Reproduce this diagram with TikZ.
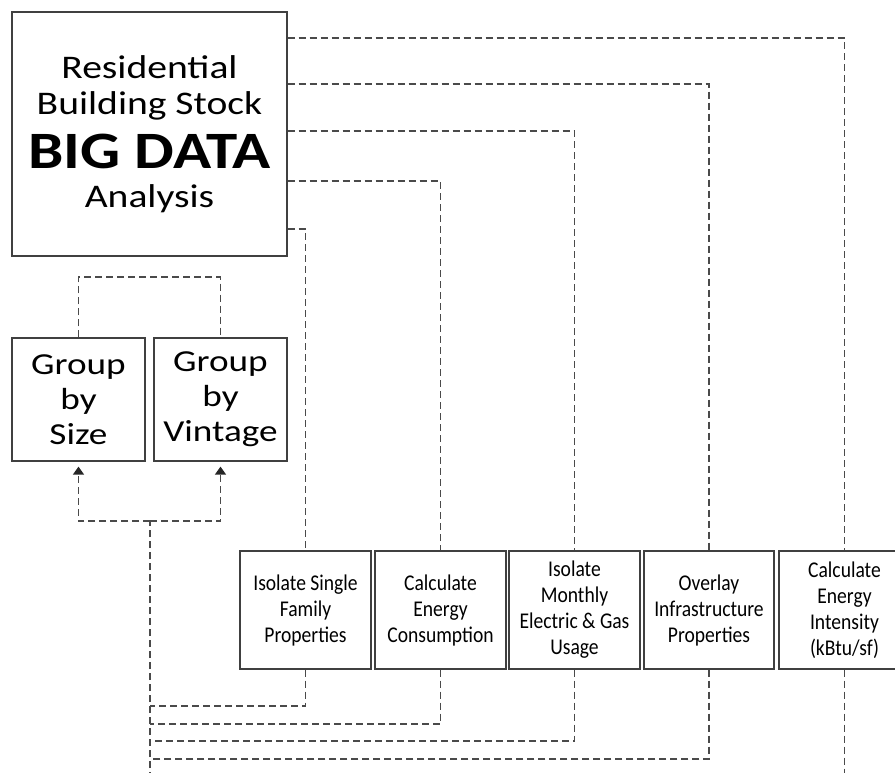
\documentclass[tikz,border=0pt]{standalone}
\usepackage{fontspec}
\setmainfont{Carlito}
\newfontfamily\bigfont{Carlito}[FakeStretch=1.2]
\newfontfamily\grpfont{Carlito}[FakeStretch=1.22]
\newfontfamily\tightfont{Carlito}[FakeStretch=0.87]
\newcommand\fixedlines{\lineskiplimit=-60pt\relax}
\usetikzlibrary{arrows.meta}
\definecolor{boxline}{HTML}{404040}
\definecolor{dashline}{HTML}{4a4a4a}
\tikzset{
  bigbox/.style={draw=boxline, line width=1.3pt, minimum width=275pt, minimum height=244pt, align=center, inner sep=0pt,
     font={\bigfont\fontsize{33}{36}\selectfont\fixedlines}},
  grpbox/.style={draw=boxline, line width=1.3pt, minimum width=133pt, minimum height=123pt, align=center, inner sep=0pt,
     font={\grpfont\fontsize{30.5}{35}\selectfont\fixedlines}},
  stepbox/.style={draw=boxline, line width=1.3pt, minimum width=131pt, minimum height=118pt, align=center, inner sep=0pt,
     font={\tightfont\fontsize{22.5}{26}\selectfont\fixedlines}},
  conn/.style={draw=dashline, line width=1.4pt, dash pattern=on 7pt off 4pt},
  tip/.style={-{Triangle[width=11pt,length=8pt,color=black!85]}, shorten >=5pt}
}
\begin{document}
\begin{tikzpicture}[x=1pt,y=-1pt]
\useasboundingbox (0,0) rectangle (895,773);
\fill[white] (0,0) rectangle (895,773);
\node[bigbox] (big) at (149.5,134) {Residential\\
  Building Stock\\[18pt]
  {\fontsize{52.5}{36}\selectfont\bfseries BIG DATA}\\[3pt]
  Analysis};
\node[grpbox] (size) at (78.5,399.5) {Group\\by\\Size};
\node[grpbox] (vint) at (220.5,399.5) {Group\\by\\Vintage};
\node[stepbox] (b1) at (305.5,610) {Isolate Single\\Family\\Properties};
\node[stepbox] (b2) at (440.5,610) {Calculate\\Energy\\Consumption};
\node[stepbox] (b3) at (574.5,610) {Isolate\\Monthly\\Electric \& Gas\\Usage};
\node[stepbox, minimum width=130pt] (b4) at (709,610) {Overlay\\Infrastructure\\Properties};
\node[stepbox] (b5) at (844.5,610) {Calculate\\Energy\\Intensity\\(kBtu/sf)};
\coordinate (j) at (150,521);
\coordinate (jb) at (150,790);
% from big box to steps
\draw[conn] (big.east |- 0,38) -| (b5.north);
\draw[conn] (big.east |- 0,84) -| (b4.north);
\draw[conn] (big.east |- 0,131) -| (b3.north);
\draw[conn] (big.east |- 0,181) -| (b2.north);
\draw[conn] (big.east |- 0,229) -| (b1.north);
% from steps to collector
\draw[conn] (b1.south) |- (j |- 0,706);
\draw[conn] (b2.south) |- (j |- 0,724);
\draw[conn] (b3.south) |- (j |- 0,741);
\draw[conn] (b4.south) |- (j |- 0,759);
\draw[conn] (b5.south) -- (b5.south |- jb);
\draw[conn] (jb) -- (j);
% to group boxes
\draw[conn, tip] (j) -| (size.south);
\draw[conn, tip] (j) -| (vint.south);
\draw[conn] (size.north) |- (vint.north |- 0,277) -- (vint.north);
\end{tikzpicture}
\end{document}
